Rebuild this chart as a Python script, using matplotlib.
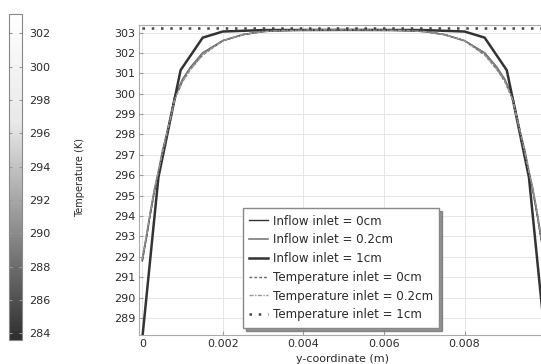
import numpy as np
import matplotlib.pyplot as plt
from matplotlib.colors import LinearSegmentedColormap, Normalize
from matplotlib.cm import ScalarMappable

# y-coordinate across the channel (m)
y_fine = [0, 0.0001, 0.0002, 0.0003, 0.0004, 0.0005, 0.0006, 0.0007, 0.0008, 0.001,
          0.0012, 0.0015, 0.002, 0.0025, 0.003, 0.0035, 0.004, 0.0045, 0.005,
          0.0055, 0.006, 0.0065, 0.007, 0.0075, 0.008, 0.0085, 0.0088, 0.009,
          0.0092, 0.0093, 0.0094, 0.0095, 0.0096, 0.0097, 0.0098, 0.0099, 0.01]
t_inflow_0 = [291.8, 292.9, 294.1, 295.2, 296.1, 297.1, 297.9, 298.8, 299.8, 300.7,
              301.3, 302.0, 302.6, 302.9, 303.05, 303.1, 303.12, 303.13, 303.13,
              303.13, 303.12, 303.1, 303.05, 302.9, 302.6, 302.0, 301.3, 300.7,
              299.8, 298.8, 297.9, 297.1, 296.1, 295.2, 294.1, 292.9, 291.8]
t_inflow_02 = [291.9, 293.0, 294.2, 295.3, 296.2, 297.2, 298.0, 298.9, 299.8, 300.7,
               301.3, 302.0, 302.6, 302.9, 303.05, 303.1, 303.12, 303.13, 303.13,
               303.13, 303.12, 303.1, 303.05, 302.9, 302.6, 302.0, 301.3, 300.7,
               299.8, 298.9, 298.0, 297.2, 296.2, 295.3, 294.2, 293.0, 291.9]
t_temp_0 = [291.8, 292.9, 294.1, 295.2, 296.1, 297.1, 297.9, 298.8, 299.7, 300.6,
            301.2, 301.9, 302.6, 302.9, 303.05, 303.1, 303.12, 303.13, 303.13,
            303.13, 303.12, 303.1, 303.05, 302.9, 302.6, 301.9, 301.2, 300.6,
            299.7, 298.8, 297.9, 297.1, 296.1, 295.2, 294.1, 292.9, 291.8]
t_temp_02 = [291.9, 293.0, 294.2, 295.3, 296.2, 297.1, 298.0, 298.8, 299.7, 300.6,
             301.2, 301.9, 302.6, 302.9, 303.05, 303.1, 303.12, 303.13, 303.13,
             303.13, 303.12, 303.1, 303.05, 302.9, 302.6, 301.9, 301.2, 300.6,
             299.7, 298.8, 298.0, 297.1, 296.2, 295.3, 294.2, 293.0, 291.9]

y_coarse = [0, 0.0004, 0.00095, 0.0015, 0.002, 0.003, 0.005, 0.007, 0.008, 0.0085,
            0.00905, 0.0096, 0.01]
t_inflow_1 = [288.0, 295.9, 301.15, 302.75, 303.05, 303.12, 303.13, 303.12, 303.05,
              302.75, 301.15, 295.9, 288.0]

y_flat = [0, 0.01]
t_temp_1 = [303.2, 303.2]

txt = '#2a2a2a'
plt.rcParams['font.family'] = 'DejaVu Sans'
plt.rcParams['font.size'] = 8

fig = plt.figure(figsize=(5.41, 3.64), dpi=100)

# main plot
ax = fig.add_axes([0.2575, 0.0788, 0.75, 0.852])
ax.plot(y_fine, t_inflow_0, color='#333333', lw=1.0, label='Inflow inlet = 0cm')
ax.plot(y_fine, t_inflow_02, color='#7a7a7a', lw=1.2, label='Inflow inlet = 0.2cm')
ax.plot(y_coarse, t_inflow_1, color='#333333', lw=1.8, label='Inflow inlet = 1cm')
ax.plot(y_fine, t_temp_0, color='#666666', lw=1.0, ls=(0, (2, 1.5)),
        label='Temperature inlet = 0cm')
ax.plot(y_fine, t_temp_02, color='#999999', lw=1.0, ls=(0, (3, 1, 1, 1)),
        label='Temperature inlet = 0.2cm')
ax.plot(y_flat, t_temp_1, color='#444444', lw=1.8, ls=(0, (1, 2.7)),
        label='Temperature inlet = 1cm')

ax.set_xlim(-0.0000745, 0.01)
ax.set_ylim(288.15, 303.36)
ax.set_xticks([0, 0.002, 0.004, 0.006, 0.008])
ax.set_xticklabels(['0', '0.002', '0.004', '0.006', '0.008'])
ax.set_yticks(range(289, 304))
ax.grid(True, color='#e6e6e6', lw=0.7)
ax.tick_params(direction='in', length=3, colors='#999999', labelcolor=txt, pad=3)
for s in ax.spines.values():
    s.set_color('#aaaaaa')
ax.set_xlabel('y-coordinate (m)', color=txt, labelpad=3)

leg = ax.legend(loc='lower left', bbox_to_anchor=(0.255, 0.024), fontsize=8.6,
                frameon=True, fancybox=False, framealpha=1,
                shadow={'color': '#666666', 'alpha': 0.7},
                edgecolor='#888888', handlelength=1.55, handletextpad=0.4,
                labelspacing=0.48, borderpad=0.55, borderaxespad=0)
leg.get_frame().set_linewidth(1.0)
for t in leg.get_texts():
    t.set_color(txt)

# colour bar
cmap = LinearSegmentedColormap.from_list('g', ['#2e2e2e', '#8c8c8c', '#e8e8e8', '#ffffff'])
cax = fig.add_axes([0.0166, 0.066, 0.024, 0.895])
sm = ScalarMappable(norm=Normalize(283.6, 303.15), cmap=cmap)
cb = fig.colorbar(sm, cax=cax)
cb.set_ticks(range(284, 303, 2))
cb.outline.set_edgecolor('#888888')
cax.tick_params(direction='in', length=2, colors='#999999', labelcolor=txt,
                labelsize=8, left=True, right=True, pad=5)
fig.text(80 / 541, 1 - 177 / 364, 'Temperature (K)', rotation=90, color=txt,
         fontsize=7, ha='center', va='center')

fig.savefig('out.png', dpi=100)
